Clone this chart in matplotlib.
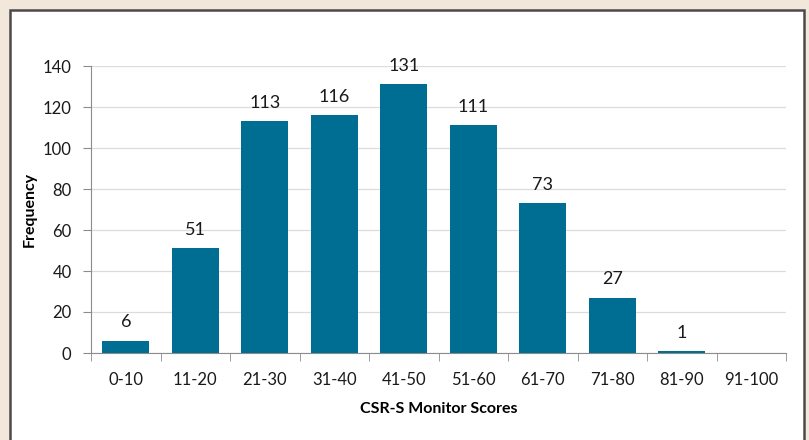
import matplotlib.pyplot as plt
from matplotlib.patches import Rectangle

categories = ['0-10', '11-20', '21-30', '31-40', '41-50', '51-60', '61-70', '71-80', '81-90', '91-100']
frequency = [6, 51, 113, 116, 131, 111, 73, 27, 1, 0]

plt.rcParams['font.family'] = ['Lato', 'DejaVu Sans']

fig = plt.figure(figsize=(8.09, 4.40), dpi=100)
fig.patch.set_facecolor('#F1E7DB')

# white panel with dark border
panel = Rectangle((10 / 809, -0.05), 794 / 809, 1.05 - 10 / 440,
                  transform=fig.transFigure, facecolor='white',
                  edgecolor='#4a4a4a', linewidth=1.8, zorder=-5)
fig.add_artist(panel)

ax = fig.add_axes([91 / 809, 1 - 353 / 440, 695 / 809, (353 - 66) / 440])
ax.set_zorder(1)
ax.set_facecolor('white')

x = range(len(categories))
bars = ax.bar(x, frequency, width=0.68, color='#006D93', zorder=3)
for xi, v in zip(x, frequency):
    if v > 0:
        ax.text(xi, v + 5, str(v), ha='center', va='bottom', fontsize=13, color='#1a1a1a')

ax.set_xlim(-0.5, len(categories) - 0.5)
ax.set_ylim(0, 140)
ax.set_yticks(range(0, 141, 20))
ax.grid(axis='y', color='#dcdcdc', linewidth=0.9, zorder=0)

ax.set_xticks(list(x))
ax.set_xticklabels(categories)
ax.set_xticks([i - 0.5 for i in range(len(categories) + 1)], minor=True)
ax.tick_params(axis='x', which='major', length=0, pad=14, labelsize=12, labelcolor='#1a1a1a')
ax.tick_params(axis='x', which='minor', length=6, color='#8c8c8c', direction='out')
ax.tick_params(axis='y', length=6, color='#8c8c8c', labelsize=12, labelcolor='#1a1a1a', pad=8)

for side in ['top', 'right']:
    ax.spines[side].set_visible(False)
ax.spines['left'].set_color('#8c8c8c')
ax.spines['bottom'].set_color('#8c8c8c')

ax.set_ylabel('Frequency', fontsize=11.5, fontweight='bold', labelpad=4)
ax.set_xlabel('CSR-S Monitor Scores', fontsize=11.5, fontweight='bold', labelpad=10)

fig.savefig('out.png', dpi=100, facecolor=fig.get_facecolor())
